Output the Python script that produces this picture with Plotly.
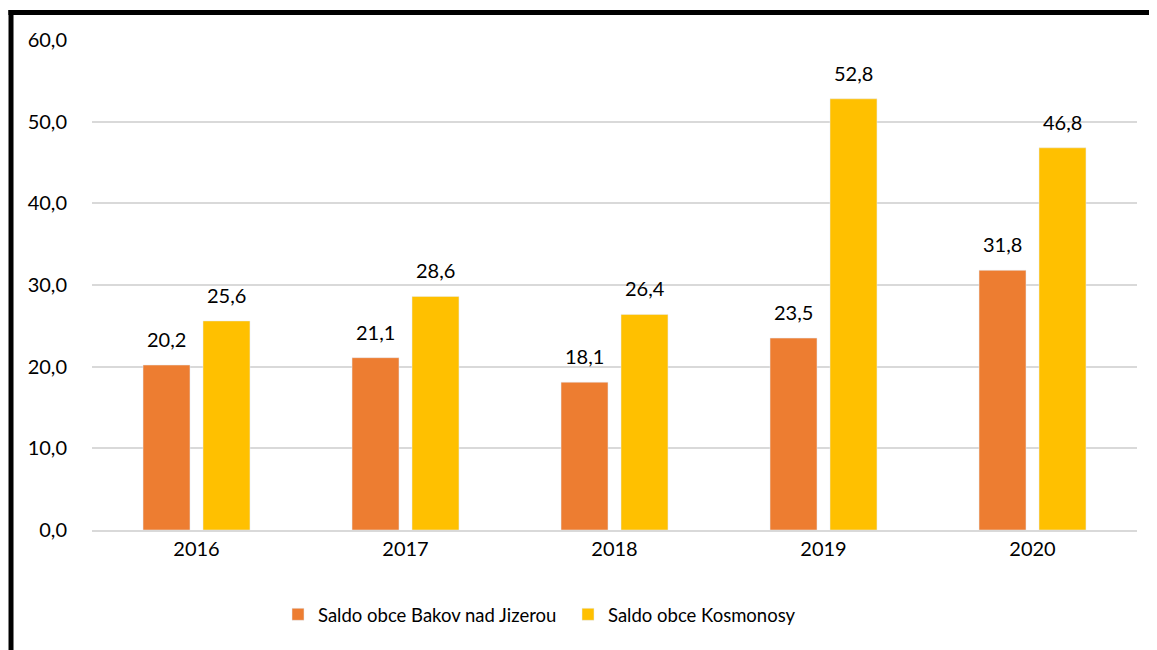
import plotly.graph_objects as go

ORANGE, YELLOW, GRID, INK = "#ED7D31", "#FFC000", "#D9D9D9", "#000000"
FONT = dict(family="Lato, sans-serif", size=20, color=INK)

years = ["2016", "2017", "2018", "2019", "2020"]
bakov = [20.2, 21.1, 18.1, 23.5, 31.8]
kosmonosy = [25.6, 28.6, 26.4, 52.8, 46.8]
y_ticks = [0, 10, 20, 30, 40, 50, 60]


def cz(v):
    return f"{v:.1f}".replace(".", ",")


fig = go.Figure()
for name, vals, color, shift in [("Saldo obce Bakov nad Jizerou", bakov, ORANGE, -30),
                                 ("Saldo obce Kosmonosy", kosmonosy, YELLOW, 30)]:
    fig.add_trace(go.Bar(x=years, y=vals, name=name, marker_color=color))
    # value labels sit a bit higher above the bars than plotly's "outside" text;
    # category index as x, a "2016" string would be read as position 2016
    for i, v in enumerate(vals):
        fig.add_annotation(x=i, y=v, text=cz(v), showarrow=False, xshift=shift,
                           yshift=12, yanchor="bottom", font=FONT)

# thick black frame on the left and top
fig.add_shape(type="line", xref="paper", yref="paper", x0=-0.0775, x1=-0.0775, y0=1.061, y1=-0.3,
              line=dict(color="black", width=5))
fig.add_shape(type="line", xref="paper", yref="paper", x0=-0.08, x1=1.05, y0=1.056, y1=1.056,
              line=dict(color="black", width=5))

fig.update_layout(width=1157, height=650, font=FONT,
                  barmode="group", bargap=0.426, bargroupgap=0.217,
                  margin=dict(l=84, r=28, t=32, b=128),
                  paper_bgcolor="white", plot_bgcolor="white",
                  legend=dict(orientation="h", x=0.178, xanchor="left", y=-0.173, yanchor="middle",
                              font=dict(size=18.5), entrywidth=245, entrywidthmode="pixels"))
fig.update_xaxes(type="category", showline=True, linecolor=GRID, linewidth=2)
fig.update_yaxes(range=[0, 60], tickvals=y_ticks, ticktext=[cz(v) for v in y_ticks],
                 gridcolor=GRID, gridwidth=2, zeroline=False, ticklabelstandoff=24)

fig.write_html("out.html")
